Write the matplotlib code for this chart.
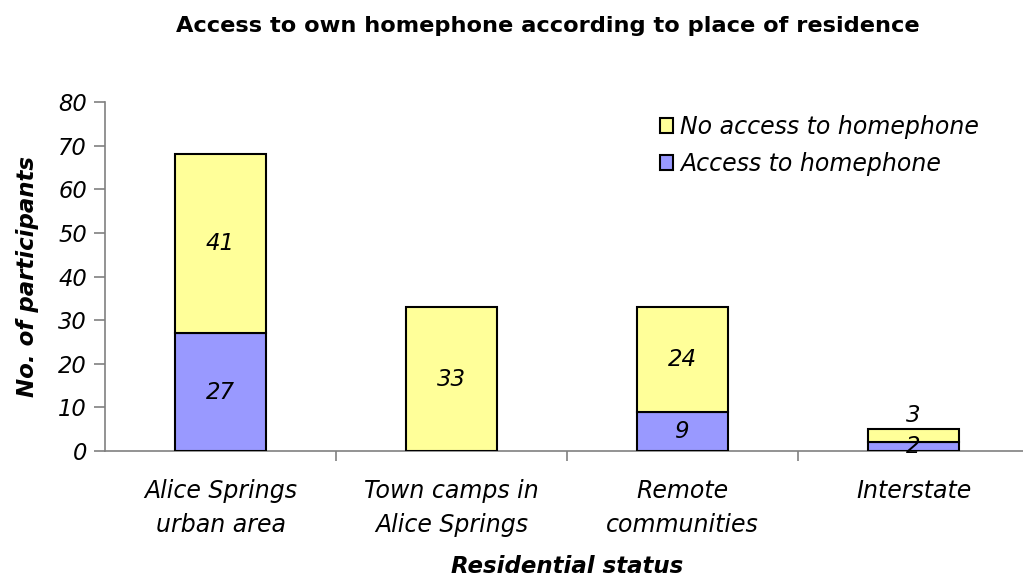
import matplotlib
matplotlib.use("Agg")
import matplotlib.pyplot as plt
from matplotlib.patches import Patch

plt.rcParams['font.family'] = ['DejaVu Sans']

categories = ["Alice Springs\nurban area", "Town camps in\nAlice Springs",
              "Remote\ncommunities", "Interstate"]
access = [27, 0, 9, 2]
no_access = [41, 33, 24, 3]
yticks = [0, 10, 20, 30, 40, 50, 60, 70, 80]

blue = "#9999FF"
yellow = "#FFFF99"
axis_grey = "#808080"

fig = plt.figure(figsize=(10.23, 5.77), dpi=100)
ax = fig.add_axes([105 / 1023, 126 / 577, 924 / 1023, 349 / 577])

x = list(range(len(categories)))
width = 0.395
ax.bar(x, access, width, color=blue, edgecolor="black", linewidth=1.5, zorder=3)
ax.bar(x, no_access, width, bottom=access, color=yellow, edgecolor="black",
       linewidth=1.5, zorder=3)

# value labels, centred in each segment (above the bar when it is too thin)
lbl = dict(ha="center", fontsize=16.5, style="italic", zorder=5)
for xi, a, n in zip(x, access, no_access):
    if a > 0:
        ax.text(xi, a / 2, str(a), va="center", **lbl)
    if n > 0:
        if n < 5:
            ax.text(xi, a + n + 0.4, str(n), va="bottom", **lbl)
        else:
            ax.text(xi, a + n / 2, str(n), va="center", **lbl)

ax.set_xlim(-0.5, 3.5)
ax.set_ylim(0, 80)
ax.set_yticks(yticks)
ax.set_yticklabels([str(t) for t in yticks], fontsize=16.3, style="italic")

ax.set_xticks(x)
ax.set_xticklabels(categories, fontsize=17, style="italic", linespacing=1.5)
ax.set_xticks([0.5, 1.5, 2.5], minor=True)
ax.tick_params(axis="x", which="major", length=0, pad=20.5)
ax.tick_params(axis="x", which="minor", length=7, width=1.2, color=axis_grey,
               direction="out")
ax.tick_params(axis="y", length=8, width=1.2, color=axis_grey, direction="out",
               pad=5)

for side in ("top", "right"):
    ax.spines[side].set_visible(False)
for side in ("left", "bottom"):
    ax.spines[side].set_color(axis_grey)
    ax.spines[side].set_linewidth(1.2)

ax.set_ylabel("No. of participants", fontsize=16.5, fontweight="bold",
              style="italic", labelpad=13.5)
ax.set_xlabel("Residential status", fontsize=16.5, fontweight="bold",
              style="italic", labelpad=13)

fig.suptitle("Access to own homephone according to place of residence",
             fontsize=16.2, fontweight="bold", x=548 / 1023, y=1 - 26 / 577,
             va="center")

handles = [Patch(facecolor=yellow, edgecolor="black", linewidth=1.5),
           Patch(facecolor=blue, edgecolor="black", linewidth=1.5)]
leg = fig.legend(handles, ["No access to homephone", "Access to homephone"],
                 loc="upper left", bbox_to_anchor=(648 / 1023, 1 - 103 / 577),
                 frameon=False, prop={"size": 17, "style": "italic"},
                 handlelength=0.55, handleheight=0.55, handletextpad=0.3,
                 labelspacing=0.55, borderpad=0)

fig.savefig("out.png", dpi=100)
